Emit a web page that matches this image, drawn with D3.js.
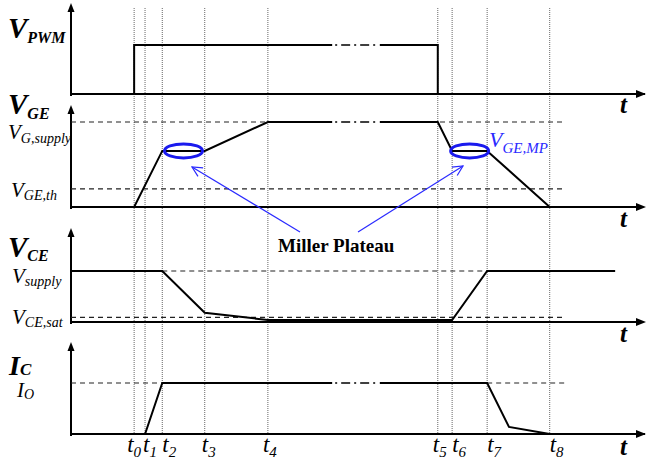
<!DOCTYPE html>
<html>
<head>
<meta charset="utf-8">
<script src="https://cdn.jsdelivr.net/npm/d3@7"></script>
<style>
  html, body { margin: 0; padding: 0; background: #fff; }
  svg { display: block; }
</style>
</head>
<body>
<svg id="chart" width="647" height="465" font-family="'Liberation Serif', 'Times New Roman', Tinos, 'DejaVu Serif', serif"></svg>
<script>
// ---- timing instants (arbitrary time units) ----
const tNames = ["0", "1", "2", "3", "4", "5", "6", "7", "8"];
const tValues = [11, 12.9, 15.9, 23.3, 34.3, 63.9, 66.4, 72.5, 83.4];

// ---- waveforms: [time, level] ----
const vpwmTimes = [0, 11, 11, 63.9, 63.9, 100];
const vpwmLevels = [0, 0, 1, 1, 0, 0];

const vgeTimes = [0, 11, 15.9, 23.3, 34.3, 63.9, 66.4, 72.5, 83.4];
const vgeLevels = [0, 0, 9.9, 9.9, 15, 15, 9.9, 9.9, 0];

const vceTimes = [0, 15.9, 23.3, 34.3, 66.4, 72.5, 94.8];
const vceLevels = [1, 1, 0.18, 0.04, 0.04, 1, 1];

const icTimes = [0, 12.9, 15.9, 72.5, 76.3, 83.4, 100];
const icLevels = [0, 0, 1, 1, 0.14, 0, 0];

// ---- reference levels ----
const vgSupply = 15, vgeMP = 9.9, vgeTh = 3.2;
const vSupply = 1, vceSat = 0.09;
const iO = 1;
const refEnd = 86;            // dashed reference lines end here
const breakSpan = [45.5, 53.8]; // interrupted time span (dash-dot)

const SERIF = "'Liberation Serif', 'Times New Roman', Tinos, 'DejaVu Serif', serif";
const svg = d3.select("#chart");
const x = d3.scaleLinear().domain([0, 100]).range([71, 645]);

// panel vertical scales
const yPWM = d3.scaleLinear().domain([0, 1]).range([94, 45]);
const yGE  = d3.scaleLinear().domain([0, 15]).range([207, 122]);
const yCE  = d3.scaleLinear().domain([0, 1]).range([322, 271]);
const yIC  = d3.scaleLinear().domain([0, 1]).range([434, 383]);

const defs = svg.append("defs");
defs.append("marker").attr("id", "openArrow")
  .attr("viewBox", "0 0 12 12").attr("refX", 11).attr("refY", 6)
  .attr("markerWidth", 12).attr("markerHeight", 12).attr("markerUnits", "userSpaceOnUse")
  .attr("orient", "auto")
  .append("path").attr("d", "M1,1 L11,6 L1,11")
  .attr("fill", "none").attr("stroke", "#2a2aff").attr("stroke-width", 1.2);

// ---- dotted time markers ----
svg.append("g").selectAll("line").data(tValues).join("line")
  .attr("x1", d => x(d)).attr("x2", d => x(d))
  .attr("y1", 8).attr("y2", 436)
  .attr("stroke", "#666").attr("stroke-width", 1)
  .attr("stroke-dasharray", "1,1");

// ---- axes with arrow heads ----
function axes(y, tipY, baseY) {
  const g = svg.append("g");
  g.append("line").attr("x1", x(0)).attr("x2", x(0))
    .attr("y1", tipY + 6).attr("y2", baseY + 2)
    .attr("stroke", "#000").attr("stroke-width", 2);
  g.append("path")
    .attr("d", `M${x(0) - 3.5},${tipY + 9} L${x(0)},${tipY} L${x(0) + 3.5},${tipY + 9} Z`)
    .attr("fill", "#000");
  g.append("line").attr("x1", x(0)).attr("x2", x(100) - 6)
    .attr("y1", baseY).attr("y2", baseY)
    .attr("stroke", "#000").attr("stroke-width", 2);
  g.append("path")
    .attr("d", `M${x(100) - 9},${baseY - 4} L${x(100) + 1},${baseY} L${x(100) - 9},${baseY + 4} Z`)
    .attr("fill", "#000");
}
axes(yPWM, 3, yPWM(0));
axes(yGE, 105, yGE(0));
axes(yCE, 228, yCE(0));
axes(yIC, 342, yIC(0));

// ---- dashed reference levels ----
function dashed(y, v, t0, t1) {
  svg.append("line")
    .attr("x1", x(t0)).attr("x2", x(t1))
    .attr("y1", y(v)).attr("y2", y(v))
    .attr("stroke", "#222").attr("stroke-width", 1.2)
    .attr("stroke-dasharray", "5,4");
}
dashed(yGE, vgSupply, 0, refEnd);
dashed(yGE, vgeTh, 0, refEnd);
dashed(yCE, vSupply, 15.9, refEnd);
dashed(yCE, vceSat, 0, refEnd);
dashed(yIC, iO, 0, 15.9);
dashed(yIC, iO, 72.5, refEnd);

// ---- waveforms ----
function wave(times, levels, y) {
  const pts = times.map((t, i) => [t, levels[i]]);
  svg.append("path").datum(pts)
    .attr("d", d3.line().x(d => x(d[0])).y(d => y(d[1])))
    .attr("fill", "none").attr("stroke", "#000")
    .attr("stroke-width", 2).attr("stroke-linejoin", "miter");
}
wave(vpwmTimes, vpwmLevels, yPWM);
wave(vgeTimes, vgeLevels, yGE);
wave(vceTimes, vceLevels, yCE);
wave(icTimes, icLevels, yIC);

// interrupted span on the long flat sections
function breakMark(y, v) {
  svg.append("line")
    .attr("x1", x(breakSpan[0])).attr("x2", x(breakSpan[1]))
    .attr("y1", y(v)).attr("y2", y(v))
    .attr("stroke", "#fff").attr("stroke-width", 4);
  svg.append("line")
    .attr("x1", x(breakSpan[0]) + 3).attr("x2", x(breakSpan[1]) - 3)
    .attr("y1", y(v)).attr("y2", y(v))
    .attr("stroke", "#000").attr("stroke-width", 1.6)
    .attr("stroke-dasharray", "2,4,9,4");
}
breakMark(yPWM, 1);
breakMark(yGE, vgSupply);
breakMark(yIC, iO);

// ---- Miller plateau highlights ----
const plateaus = [[15.9, 23.3], [66.4, 72.5]];
svg.append("g").selectAll("ellipse").data(plateaus).join("ellipse")
  .attr("cx", d => (x(d[0]) + x(d[1])) / 2)
  .attr("cy", yGE(vgeMP))
  .attr("rx", 19)
  .attr("ry", 7)
  .attr("fill", "none").attr("stroke", "#1a1aee").attr("stroke-width", 3);

// annotation arrows toward each plateau
const arrowStarts = [[300, 232], [358, 232]];
const arrowEnds = [[192, 167], [463, 166]];
svg.append("g").selectAll("line").data(arrowStarts).join("line")
  .attr("x1", d => d[0]).attr("y1", d => d[1])
  .attr("x2", (d, i) => arrowEnds[i][0]).attr("y2", (d, i) => arrowEnds[i][1])
  .attr("stroke", "#2a2aff").attr("stroke-width", 1.2)
  .attr("marker-end", "url(#openArrow)");

svg.append("text").attr("x", 278).attr("y", 252)
  .attr("font-family", SERIF)
  .attr("font-size", 19).attr("font-weight", "bold")
  .text("Miller Plateau");

// ---- labels with subscripts ----
function label(xp, yp, main, sub, opt) {
  const o = Object.assign({ size: 22, subSize: 15, bold: false, fill: "#000", dy: 4 }, opt || {});
  const t = svg.append("text").attr("x", xp).attr("y", yp)
    .attr("font-family", SERIF)
    .attr("font-style", "italic").attr("fill", o.fill)
    .attr("font-weight", o.bold ? "bold" : "normal");
  t.append("tspan").attr("font-size", o.size).text(main);
  if (sub) t.append("tspan").attr("font-size", o.subSize).attr("dy", o.dy).text(sub);
  return t;
}
label(8, 38, "V", "PWM", { size: 29, subSize: 16, bold: true, dy: 5 });
label(8, 114, "V", "GE", { size: 29, subSize: 16, bold: true, dy: 5 });
label(8, 139, "V", "G,supply", { size: 21, subSize: 14, dy: 4 });
label(11, 197, "V", "GE,th", { size: 21, subSize: 14, dy: 3 });
label(8, 257, "V", "CE", { size: 29, subSize: 16, bold: true, dy: 4 });
label(12, 283, "V", "supply", { size: 21, subSize: 14, dy: 3 });
label(12, 324, "V", "CE,sat", { size: 21, subSize: 14, dy: 3 });
label(9, 375, "I", "C", { size: 28, subSize: 17, bold: true, dy: 0 });
label(17, 397, "I", "O", { size: 21, subSize: 14, dy: 2 });
label(489, 147, "V", "GE,MP", { size: 22, subSize: 15, fill: "#2a2aff", dy: 6 });

// time axis labels
const tShift = [-7, -2, 0, -3, -5, -5, 0, 0, 0];
tValues.forEach((tv, i) => {
  label(x(tv) + tShift[i], 452, "t", tNames[i], { size: 23, subSize: 15, dy: 5 });
});

// "t" at the end of every time axis
[113, 227, 342, 455].forEach(yb => {
  svg.append("text").attr("x", 620).attr("y", yb)
    .attr("font-family", SERIF)
    .attr("font-size", 25).attr("font-style", "italic").attr("font-weight", "bold")
    .text("t");
});
</script>
</body>
</html>
